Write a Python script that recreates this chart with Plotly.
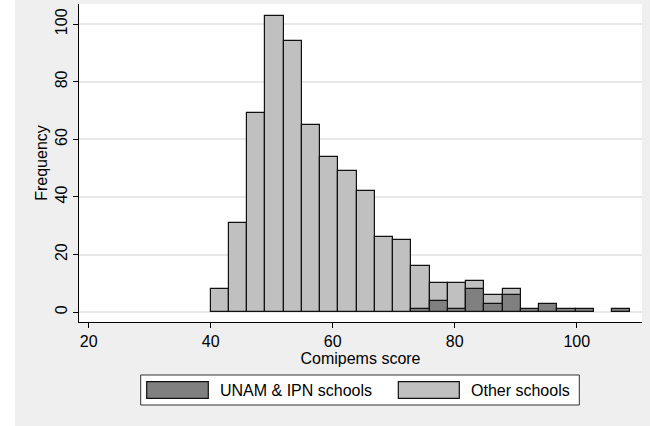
import plotly.graph_objects as go

# Histogram bins (Comipems score)
bin_start = 40.0
bin_width = 2.99
other_counts = [8, 31, 69, 103, 94, 65, 54, 49, 42, 26, 25, 16, 10, 10, 11, 6, 8, 0, 0, 0, 0, 0, 0]
unam_counts = [0, 0, 0, 0, 0, 0, 0, 0, 0, 0, 0, 1, 4, 1, 8, 3, 6, 1, 3, 1, 1, 0, 1]
x_ticks = [20, 40, 60, 80, 100]
y_ticks = [0, 20, 40, 60, 80, 100]
series_names = ["UNAM & IPN schools", "Other schools"]
series_colors = ["#808080", "#c0c0c0"]

W, H = 650, 426
L, R, T, B = 79, 642, 4, 322


def px(xp):
    return (xp - L) / (R - L)


def py(yp):
    return (B - yp) / (B - T)


def nz(vals):
    return [v if v else None for v in vals]


fig = go.Figure()
fig.add_trace(go.Bar(x0=bin_start + bin_width / 2, dx=bin_width, y=nz(other_counts),
                     width=bin_width, name=series_names[1],
                     marker=dict(color=series_colors[1], line=dict(color="#111111", width=1.2)),
                     showlegend=False))
fig.add_trace(go.Bar(x0=bin_start + bin_width / 2, dx=bin_width, y=nz(unam_counts),
                     width=bin_width, name=series_names[0],
                     marker=dict(color=series_colors[0], line=dict(color="#111111", width=1.2)),
                     showlegend=False))

font = dict(family="Liberation Sans, Arial, sans-serif", size=16, color="#000000")

shapes = [
    # white strip at left edge of the picture
    dict(type="rect", xref="paper", yref="paper", x0=px(0), x1=px(15), y0=py(H), y1=py(0),
         fillcolor="white", line=dict(width=0), layer="below"),
    # legend box
    dict(type="rect", xref="paper", yref="paper", x0=px(140.7), x1=px(579.3), y0=py(405), y1=py(375),
         fillcolor="white", line=dict(color="#333333", width=1)),
    dict(type="rect", xref="paper", yref="paper", x0=px(146.7), x1=px(208.3), y0=py(398.3), y1=py(381.7),
         fillcolor=series_colors[0], line=dict(color="#111111", width=1.2)),
    dict(type="rect", xref="paper", yref="paper", x0=px(398.3), x1=px(459.3), y0=py(398.3), y1=py(381.7),
         fillcolor=series_colors[1], line=dict(color="#111111", width=1.2)),
]
annotations = [
    dict(xref="paper", yref="paper", x=px(218), y=py(390), text=series_names[0], showarrow=False,
         xanchor="left", yanchor="middle", font=font),
    dict(xref="paper", yref="paper", x=px(469), y=py(390), text=series_names[1], showarrow=False,
         xanchor="left", yanchor="middle", font=font),
]

fig.update_layout(
    width=W, height=H,
    margin=dict(l=L, r=W - R, t=T, b=H - B, pad=0),
    paper_bgcolor="#efefef", plot_bgcolor="white",
    barmode="overlay", bargap=0,
    font=font,
    showlegend=False,
    shapes=shapes, annotations=annotations,
)
fig.update_xaxes(range=[18.4, 110.7], tickvals=x_ticks, ticks="outside", ticklen=5, tickcolor="#000",
                 showline=True, linecolor="#000", linewidth=1, showgrid=False, zeroline=False,
                 title=dict(text="Comipems score", standoff=2, font=font), tickfont=font)
fig.update_yaxes(range=[-3.4, 107], tickvals=y_ticks, ticks="outside", ticklen=5, tickcolor="#000",
                 tickangle=-90, showline=True, linecolor="#000", linewidth=1,
                 showgrid=True, gridcolor="#e8e8e8", gridwidth=1.5, zeroline=False,
                 title=dict(text="Frequency", standoff=0, font=font), tickfont=font)

fig.write_html("out.html")
